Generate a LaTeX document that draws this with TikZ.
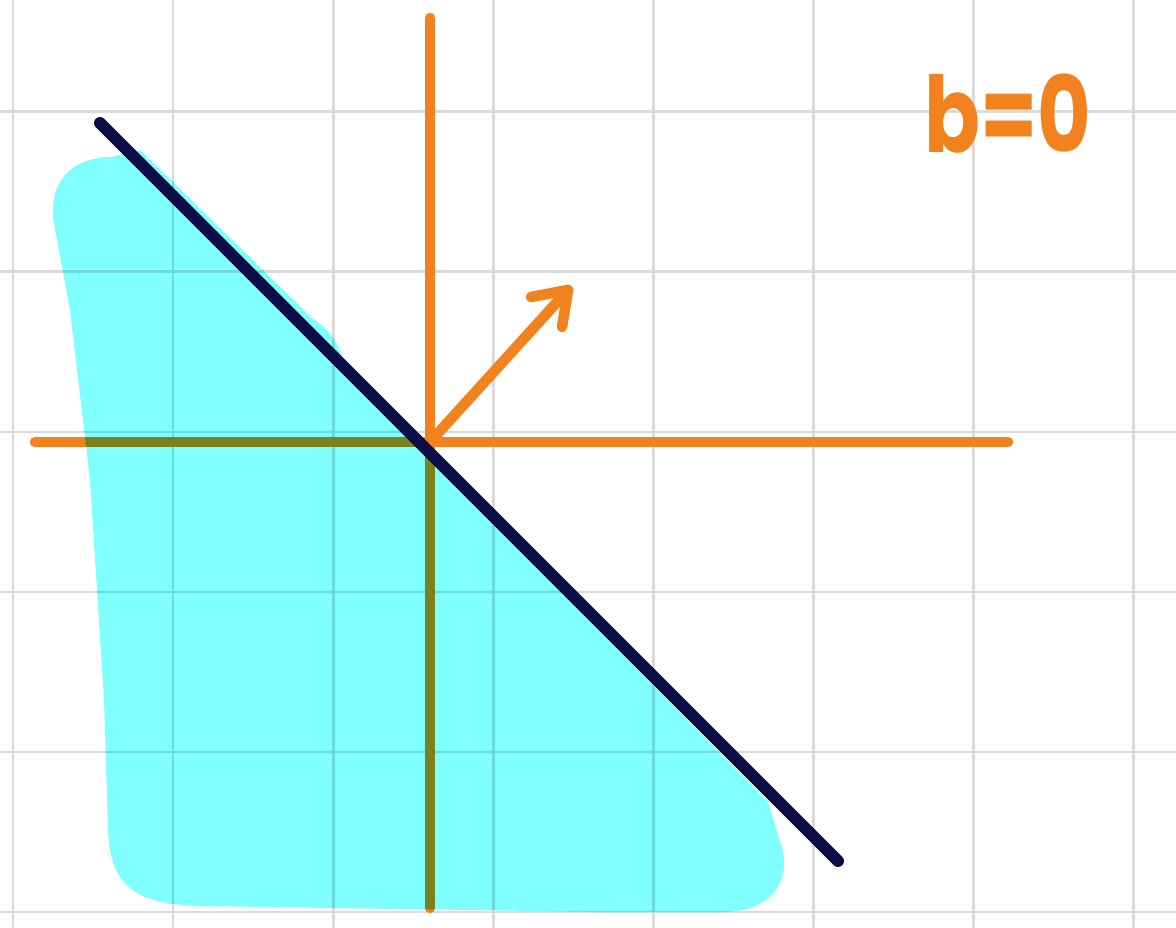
\documentclass[tikz,border=0pt]{standalone}
\usepackage{fontspec}
\newfontfamily\handfont{Poppins}
\definecolor{axisorange}{HTML}{F2821E}
\definecolor{navyline}{HTML}{0B0B48}
\definecolor{blobcyan}{HTML}{80FFFF}
\definecolor{gridgray}{HTML}{DADADA}
\tikzset{
  gridline/.style={draw=gridgray, line width=0.85pt},
  axisline/.style={draw=axisorange, line width=3.0pt, line cap=round},
  boundary/.style={draw=navyline, line width=3.4pt, line cap=round},
  region/.style={fill=blobcyan, blend mode=multiply},
  label/.style={text=axisorange, font=\handfont\bfseries\fontsize{30}{36}\selectfont, inner sep=0pt, xscale=0.78}
}
\begin{document}
\begin{tikzpicture}[x=0.01cm,y=-0.01cm]
\useasboundingbox (0,0) rectangle (1176,928);
\fill[white] (0,0) rectangle (1176,928);
% grid
\foreach \gx in {13,173,333,493,653,813,973,1133}
  \draw[gridline] (\gx,0) -- (\gx,928);
\foreach \gy in {112,272,432,592,752,912}
  \draw[gridline] (0,\gy) -- (1176,\gy);
% coordinates
\coordinate (O) at (430,442);
\coordinate (xl) at (35,442);
\coordinate (xr) at (1008,442);
\coordinate (yt) at (430,18);
\coordinate (yb) at (430,908);
\coordinate (tip) at (568,290);
\coordinate (barbA) at (531,297);
\coordinate (barbB) at (562,327);
\coordinate (lineA) at (100,123);
\coordinate (lineB) at (838,861);
% axes
\draw[axisline] (xl) -- (xr);
\draw[axisline] (yt) -- (yb);
% normal vector
\draw[axisline] (O) -- (tip);
\draw[axisline, line join=round] (barbA) -- (tip) -- (barbB);
% shaded half-plane
\path[region] (112,157) .. controls (78,157) and (50,175) .. (53,218)
  -- (70,310) -- (90,480) -- (104,700) -- (108,830)
  .. controls (110,890) and (140,904) .. (200,906)
  -- (600,912) -- (722,912)
  .. controls (772,912) and (792,880) .. (781,845)
  -- (768,802) -- (345,372) .. controls (342,345) and (330,330) .. (312,318)
  -- (140,150) .. controls (130,152) .. (112,157) -- cycle;
% boundary line
\draw[boundary] (lineA) -- (lineB);
% label
\node[label] (blabel) at (1008,114) {b=0};
\end{tikzpicture}
\end{document}
